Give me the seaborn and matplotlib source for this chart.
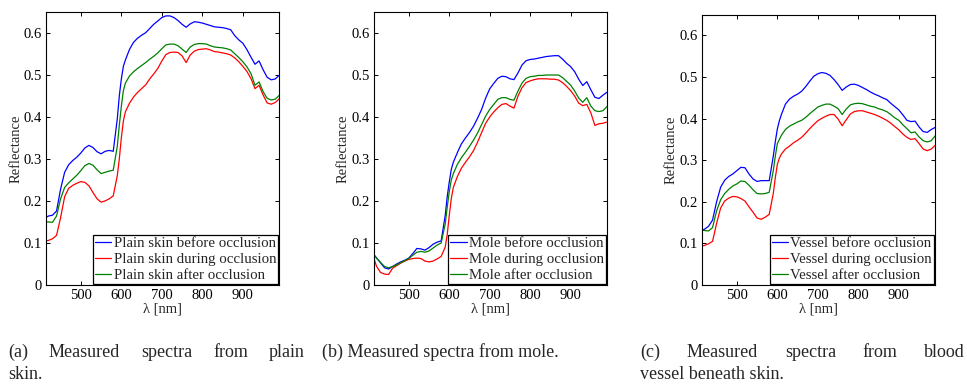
import matplotlib
matplotlib.use("Agg")
import matplotlib.pyplot as plt
import pandas as pd
import seaborn as sns
from matplotlib.ticker import FuncFormatter

# ---------------- data ----------------
wavelength = [414, 420, 430, 440, 450, 460, 470, 480, 490, 500,
              510, 520, 530, 540, 550, 560, 570, 580, 590, 595,
              600, 605, 610, 620, 630, 640, 650, 660, 670, 680,
              690, 700, 710, 720, 730, 740, 750, 760, 770, 780,
              790, 800, 810, 820, 830, 840, 850, 860, 870, 880,
              890, 900, 910, 920, 930, 940, 950, 960, 970, 980, 990]

skin_before = [0.161, 0.164, 0.166, 0.176, 0.228, 0.268, 0.286, 0.296, 0.304, 0.314,
               0.326, 0.332, 0.327, 0.317, 0.312, 0.318, 0.320, 0.318, 0.395, 0.450,
               0.490, 0.520, 0.535, 0.560, 0.577, 0.587, 0.594, 0.600, 0.610, 0.620,
               0.628, 0.636, 0.640, 0.640, 0.636, 0.629, 0.620, 0.613, 0.621, 0.626,
               0.625, 0.623, 0.620, 0.617, 0.614, 0.613, 0.612, 0.610, 0.607, 0.593,
               0.583, 0.575, 0.560, 0.542, 0.525, 0.533, 0.512, 0.494, 0.488, 0.490, 0.499]
skin_during = [0.105, 0.106, 0.110, 0.118, 0.160, 0.210, 0.230, 0.237, 0.242, 0.246,
               0.244, 0.236, 0.220, 0.205, 0.197, 0.200, 0.205, 0.212, 0.260, 0.300,
               0.350, 0.390, 0.412, 0.432, 0.447, 0.458, 0.467, 0.476, 0.490, 0.502,
               0.515, 0.533, 0.548, 0.553, 0.554, 0.553, 0.545, 0.529, 0.547, 0.556,
               0.560, 0.561, 0.562, 0.559, 0.555, 0.554, 0.552, 0.550, 0.547, 0.540,
               0.531, 0.520, 0.508, 0.491, 0.467, 0.475, 0.452, 0.433, 0.430, 0.434, 0.443]
skin_after = [0.150, 0.150, 0.149, 0.164, 0.205, 0.232, 0.243, 0.252, 0.261, 0.272,
              0.284, 0.289, 0.285, 0.274, 0.265, 0.268, 0.271, 0.273, 0.330, 0.380,
              0.425, 0.462, 0.480, 0.497, 0.507, 0.515, 0.522, 0.529, 0.537, 0.544,
              0.552, 0.562, 0.571, 0.573, 0.573, 0.569, 0.561, 0.553, 0.566, 0.572,
              0.574, 0.574, 0.573, 0.569, 0.566, 0.565, 0.564, 0.562, 0.559, 0.550,
              0.541, 0.531, 0.519, 0.503, 0.475, 0.483, 0.460, 0.444, 0.440, 0.442, 0.451]

mole_before = [0.072, 0.065, 0.053, 0.041, 0.038, 0.044, 0.050, 0.055, 0.059, 0.064,
               0.075, 0.087, 0.086, 0.083, 0.089, 0.097, 0.102, 0.105, 0.165, 0.210,
               0.245, 0.275, 0.292, 0.315, 0.336, 0.350, 0.363, 0.378, 0.397, 0.418,
               0.445, 0.467, 0.480, 0.492, 0.497, 0.496, 0.491, 0.489, 0.505, 0.524,
               0.534, 0.537, 0.538, 0.540, 0.542, 0.544, 0.545, 0.546, 0.546, 0.538,
               0.528, 0.520, 0.508, 0.490, 0.475, 0.484, 0.465, 0.447, 0.444, 0.452, 0.459]
mole_during = [0.063, 0.045, 0.030, 0.026, 0.025, 0.040, 0.046, 0.052, 0.057, 0.061,
               0.063, 0.064, 0.063, 0.057, 0.055, 0.057, 0.062, 0.068, 0.090, 0.120,
               0.165, 0.205, 0.232, 0.258, 0.278, 0.292, 0.305, 0.320, 0.340, 0.363,
               0.385, 0.400, 0.412, 0.422, 0.430, 0.432, 0.426, 0.421, 0.450, 0.470,
               0.482, 0.486, 0.489, 0.491, 0.491, 0.491, 0.490, 0.490, 0.488, 0.482,
               0.473, 0.463, 0.450, 0.433, 0.427, 0.430, 0.410, 0.380, 0.384, 0.385, 0.388]
mole_after = [0.071, 0.064, 0.054, 0.044, 0.041, 0.044, 0.048, 0.053, 0.058, 0.063,
              0.071, 0.078, 0.080, 0.078, 0.081, 0.088, 0.095, 0.100, 0.145, 0.185,
              0.222, 0.250, 0.265, 0.287, 0.303, 0.316, 0.330, 0.345, 0.362, 0.382,
              0.402, 0.418, 0.430, 0.442, 0.446, 0.446, 0.442, 0.440, 0.462, 0.481,
              0.492, 0.496, 0.497, 0.499, 0.499, 0.500, 0.500, 0.500, 0.500, 0.494,
              0.485, 0.476, 0.462, 0.445, 0.435, 0.446, 0.426, 0.415, 0.413, 0.415, 0.425]

vessel_before = [0.132, 0.134, 0.141, 0.156, 0.200, 0.235, 0.252, 0.261, 0.267, 0.275,
                 0.283, 0.282, 0.267, 0.255, 0.249, 0.251, 0.251, 0.251, 0.310, 0.345,
                 0.375, 0.395, 0.410, 0.435, 0.447, 0.454, 0.459, 0.466, 0.477, 0.490,
                 0.502, 0.508, 0.511, 0.509, 0.504, 0.494, 0.482, 0.468, 0.476, 0.482,
                 0.483, 0.480, 0.475, 0.470, 0.464, 0.459, 0.455, 0.450, 0.446, 0.437,
                 0.429, 0.421, 0.409, 0.396, 0.393, 0.394, 0.380, 0.369, 0.367, 0.374, 0.379]
vessel_during = [0.094, 0.095, 0.099, 0.105, 0.148, 0.185, 0.202, 0.209, 0.213, 0.212,
                 0.208, 0.202, 0.188, 0.175, 0.161, 0.158, 0.163, 0.170, 0.220, 0.258,
                 0.290, 0.305, 0.315, 0.327, 0.334, 0.342, 0.348, 0.355, 0.365, 0.376,
                 0.386, 0.395, 0.401, 0.406, 0.410, 0.410, 0.399, 0.383, 0.397, 0.411,
                 0.417, 0.419, 0.419, 0.416, 0.413, 0.410, 0.406, 0.401, 0.396, 0.389,
                 0.381, 0.373, 0.363, 0.355, 0.350, 0.352, 0.340, 0.327, 0.323, 0.327, 0.336]
vessel_after = [0.132, 0.131, 0.130, 0.138, 0.178, 0.205, 0.220, 0.230, 0.238, 0.243,
                0.250, 0.249, 0.240, 0.229, 0.220, 0.219, 0.220, 0.223, 0.275, 0.310,
                0.340, 0.350, 0.360, 0.374, 0.382, 0.387, 0.392, 0.396, 0.403, 0.412,
                0.420, 0.428, 0.432, 0.435, 0.435, 0.430, 0.424, 0.410, 0.423, 0.433,
                0.436, 0.437, 0.436, 0.433, 0.430, 0.428, 0.424, 0.421, 0.417, 0.410,
                0.402, 0.396, 0.385, 0.376, 0.366, 0.368, 0.356, 0.347, 0.344, 0.347, 0.359]

subjects = ["Plain skin", "Mole", "Vessel"]
phases = ["before occlusion", "during occlusion", "after occlusion"]
series_values = [
    [skin_before, skin_during, skin_after],
    [mole_before, mole_during, mole_after],
    [vessel_before, vessel_during, vessel_after],
]
x_ticks = [500, 600, 700, 800, 900]
y_ticks = [0, 0.1, 0.2, 0.3, 0.4, 0.5, 0.6]
x_label = "λ [nm]"
y_label = "Reflectance"
captions = [
    ["(a) Measured spectra from plain", "skin."],
    ["(b) Measured spectra from mole."],
    ["(c) Measured spectra from blood", "vessel beneath skin."],
]

# ---------------- style ----------------
sns.set_theme(style="ticks")
plt.rcParams["font.family"] = ["Liberation Serif", "DejaVu Serif"]
plt.rcParams["axes.edgecolor"] = "black"
plt.rcParams["axes.linewidth"] = 0.8

colors = ["#0000ff", "#ff0000", "#008000"]

W, H = 967, 384
fig = plt.figure(figsize=(W / 100, H / 100), dpi=100)

# axes boxes in pixels: left, right, top, bottom
boxes = [(46, 279.3, 11.7, 285), (374, 607, 12, 285), (702, 935.3, 14.7, 285)]
ylabel_offsets = [23.5, 24, 24.5]

for i, (subj, vals) in enumerate(zip(subjects, series_values)):
    l, r, t, b = boxes[i]
    ax = fig.add_axes([l / W, (H - b) / H, (r - l) / W, (b - t) / H])
    labels = [f"{subj} {p}" for p in phases]
    df = pd.DataFrame({
        "wavelength": wavelength * 3,
        "reflectance": vals[0] + vals[1] + vals[2],
        "series": [labels[0]] * len(wavelength) + [labels[1]] * len(wavelength)
                  + [labels[2]] * len(wavelength),
    })
    sns.lineplot(data=df, x="wavelength", y="reflectance", hue="series",
                 hue_order=labels, palette=colors, estimator=None,
                 linewidth=0.9, ax=ax)
    ax.set_xlim(414, 990)
    ax.set_ylim(0, 0.65)
    ax.set_xticks(x_ticks)
    ax.set_yticks(y_ticks)
    ax.yaxis.set_major_formatter(FuncFormatter(lambda v, _: "0" if v == 0 else f"{v:.1f}"))
    ax.tick_params(direction="in", top=True, right=True, length=3, width=0.7,
                   labelsize=10.5, pad=3, colors="black")
    ax.set_xlabel(x_label, fontsize=10.5, labelpad=0)
    ax.set_ylabel(y_label, fontsize=10.5)
    ax.yaxis.set_label_coords(-ylabel_offsets[i] / (r - l), 0.5)
    for s in ax.spines.values():
        s.set_linewidth(0.8)
        s.set_color("black")
    handles, labs = ax.get_legend_handles_labels()
    leg = ax.legend(handles, labs, loc="lower right", fontsize=10.7, frameon=True,
                    fancybox=False, edgecolor="black", framealpha=1,
                    handlelength=1.1, handletextpad=0.15, borderpad=0.12,
                    labelspacing=0.15, borderaxespad=0.1)
    leg.get_frame().set_linewidth(0.9)

# ---------------- captions (justified first lines) ----------------
cap_fs = 13
cap_x = [(8, 305), (322, None), (640, 965)]
base1, base2 = 357, 379
fig.canvas.draw()
renderer = fig.canvas.get_renderer()
for (x0, x1), lines in zip(cap_x, captions):
    for j, line in enumerate(lines):
        yb = 1 - (base1 if j == 0 else base2) / H
        justify = (j == 0 and len(lines) > 1 and x1 is not None)
        if not justify:
            fig.text(x0 / W, yb, line, fontsize=cap_fs, va="baseline", ha="left")
            continue
        words = line.split(" ")
        texts = [fig.text(0, yb, w, fontsize=cap_fs, va="baseline", ha="left") for w in words]
        widths = [tx.get_window_extent(renderer).width for tx in texts]
        gap = ((x1 - x0) - sum(widths)) / (len(words) - 1)
        pos = x0
        for tx, w in zip(texts, widths):
            tx.set_x(pos / W)
            pos += w + gap

fig.savefig("out.png", dpi=100)
